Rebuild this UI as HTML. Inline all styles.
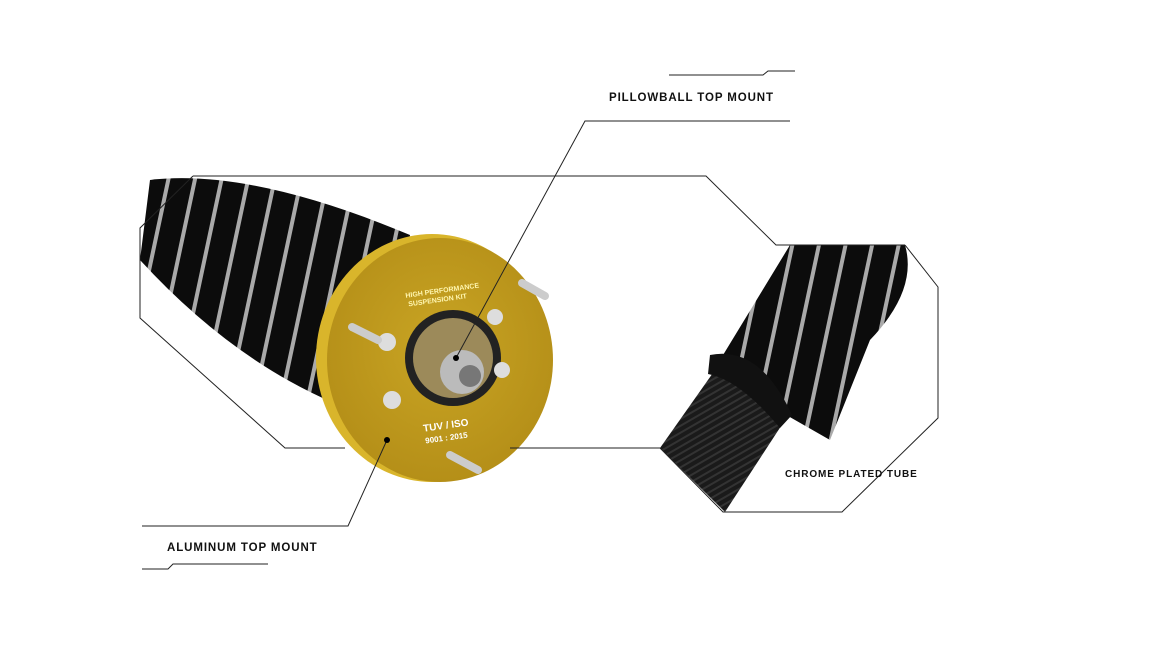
<!DOCTYPE html>
<html><head><style>
body{margin:0;background:#fff;width:1175px;height:660px;overflow:hidden;font-family:"Liberation Sans",sans-serif}
.l{position:absolute;font-weight:bold;font-size:11.5px;letter-spacing:0.9px;color:#111}
</style></head><body>
<svg width="1175" height="660" style="position:absolute;left:0;top:0">
<defs>
<radialGradient id="gd" cx=".5" cy=".45" r=".6"><stop offset="0" stop-color="#c9a524"/><stop offset="1" stop-color="#b38d17"/></radialGradient>
<pattern id="coil" width="26" height="200" patternUnits="userSpaceOnUse" patternTransform="rotate(12)">
<rect width="26" height="200" fill="#0c0c0c"/><rect x="18" width="4" height="200" fill="#aaa"/>
</pattern>
<pattern id="th" width="6" height="6" patternUnits="userSpaceOnUse" patternTransform="rotate(-30)"><rect width="6" height="6" fill="#1a1a1a"/><rect width="6" height="2" fill="#333"/></pattern>
</defs>
<path d="M150 180 Q250 168 410 235 L380 420 Q250 380 140 260 Z" fill="url(#coil)"/>
<ellipse cx="432" cy="358" rx="116" ry="124" fill="#d9b52b"/>
<ellipse cx="440" cy="360" rx="113" ry="122" fill="url(#gd)"/>
<circle cx="453" cy="358" r="48" fill="#222"/>
<circle cx="453" cy="358" r="40" fill="#9c8a5a"/>
<circle cx="462" cy="372" r="22" fill="#bbb"/>
<circle cx="470" cy="376" r="11" fill="#777"/>
<circle cx="387" cy="342" r="9" fill="#ddd"/><circle cx="495" cy="317" r="8" fill="#ddd"/>
<circle cx="502" cy="370" r="8" fill="#ddd"/><circle cx="392" cy="400" r="9" fill="#ddd"/>
<path d="M352 327 L378 340" stroke="#ccc" stroke-width="8" stroke-linecap="round"/>
<path d="M522 283 L545 296" stroke="#ccc" stroke-width="8" stroke-linecap="round"/>
<path d="M450 455 L478 470" stroke="#ccc" stroke-width="8" stroke-linecap="round"/>
<text x="405" y="293" font-size="7" font-weight="bold" fill="#fff6b0" transform="rotate(-8 440 290)">HIGH PERFORMANCE</text>
<text x="408" y="302" font-size="7" font-weight="bold" fill="#fff6b0" transform="rotate(-8 440 300)">SUSPENSION KIT</text>
<text x="423" y="428" font-size="10" font-weight="bold" fill="#fff" transform="rotate(-8 450 425)">TUV / ISO</text>
<text x="425" y="440" font-size="8" font-weight="bold" fill="#fff" transform="rotate(-8 450 437)">9001 : 2015</text>
<path d="M790 245 L905 245 Q918 290 870 340 L830 440 L760 400 L720 360 Z" fill="url(#coil)"/>
<path d="M715 370 L785 420 L725 512 L660 448 Z" fill="url(#th)"/>
<path d="M710 355 Q760 345 792 415 L780 428 Q740 380 708 374 Z" fill="#111"/>
<g fill="none" stroke="#222" stroke-width="1">
<polyline points="193,176 706,176 776,245 905,245"/>
<polyline points="905,245 938,287 938,418 842,512 723,512 660,448 510,448"/>
<polyline points="345,448 285,448 140,318 140,228 193,176"/>
<polyline points="669,75 763,75 768,71 795,71"/>
<polyline points="790,121 585,121 456,358"/>
<polyline points="387,440 348,526 142,526"/>
<polyline points="142,569 168,569 173,564 268,564"/>
</g>
<circle cx="456" cy="358" r="3" fill="#000"/>
<circle cx="387" cy="440" r="3" fill="#000"/>
</svg>
<div class="l" style="left:609px;top:92px">PILLOWBALL TOP MOUNT</div>
<div class="l" style="left:167px;top:542px">ALUMINUM TOP MOUNT</div>
<div class="l" style="left:785px;top:469px;font-size:10px">CHROME PLATED TUBE</div>
</body></html>
